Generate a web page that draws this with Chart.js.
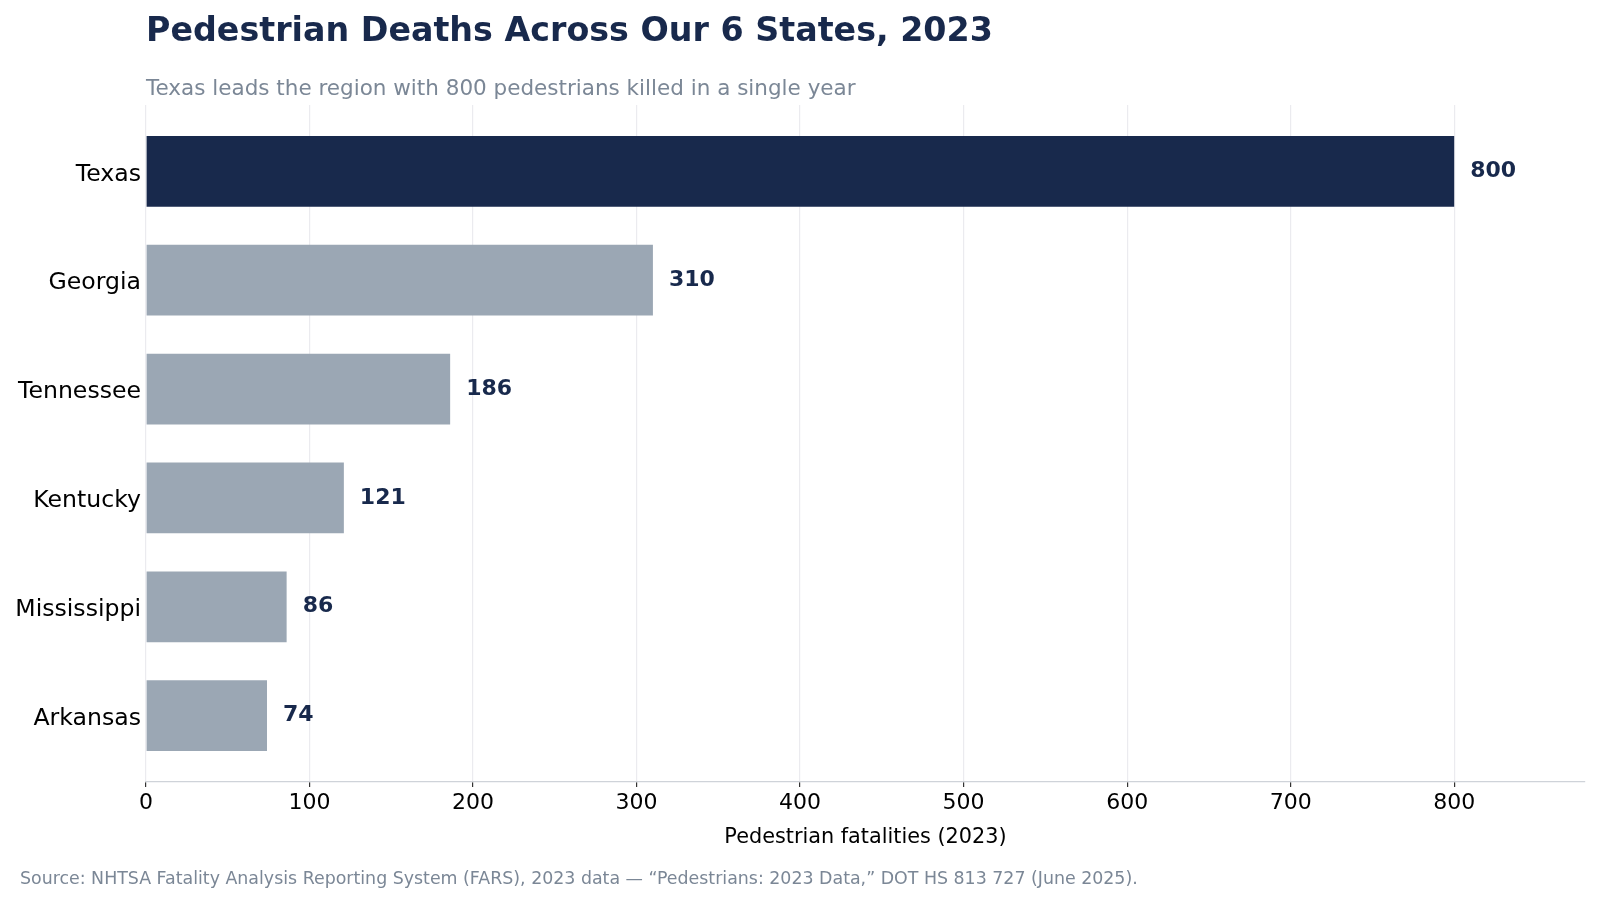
<!DOCTYPE html>
<html>
<head>
<meta charset="utf-8">
<script src="https://cdn.jsdelivr.net/npm/chart.js@4.4.1/dist/chart.umd.min.js"></script>
<style>
  html, body { margin: 0; padding: 0; background: #ffffff; }
  #wrap { position: relative; width: 1600px; height: 900px; overflow: hidden; font-family: 'DejaVu Sans', sans-serif; }
  #c { position: absolute; left: 0; top: 0; }
  .txt { position: absolute; white-space: nowrap; line-height: 1; }
  #title { left: 146px; top: 12.8px; font-size: 33.3px; font-weight: bold; color: #18294c; }
  #subtitle { left: 146px; top: 77.2px; font-size: 21.5px; color: #7b8796; }
  #source { left: 20px; top: 870px; font-size: 17.4px; color: #7b8796; }
</style>
</head>
<body>
<div id="wrap">
  <canvas id="c" width="1600" height="900"></canvas>
  <div class="txt" id="title">Pedestrian Deaths Across Our 6 States, 2023</div>
  <div class="txt" id="subtitle">Texas leads the region with 800 pedestrians killed in a single year</div>
  <div class="txt" id="source">Source: NHTSA Fatality Analysis Reporting System (FARS), 2023 data — “Pedestrians: 2023 Data,” DOT HS 813 727 (June 2025).</div>
</div>
<script>
const states = ['Texas', 'Georgia', 'Tennessee', 'Kentucky', 'Mississippi', 'Arkansas'];
const deaths = [800, 310, 186, 121, 86, 74];
const xTicks = [0, 100, 200, 300, 400, 500, 600, 700, 800];
const xTitle = 'Pedestrian fatalities (2023)';

const NAVY = '#18294c';
const GRAY = '#9ba7b4';

const points = states.map((s, i) => ({ x: deaths[i], y: i }));
const barColors = states.map((s, i) => i === 0 ? NAVY : GRAY);

const valueLabels = {
  id: 'valueLabels',
  afterDatasetsDraw(chart) {
    const ctx = chart.ctx;
    const meta = chart.getDatasetMeta(0);
    ctx.save();
    ctx.font = 'bold 22px "DejaVu Sans"';
    ctx.fillStyle = NAVY;
    ctx.textAlign = 'left';
    ctx.textBaseline = 'middle';
    meta.data.forEach((bar, i) => {
      ctx.fillText(String(deaths[i]), bar.x + 16, bar.y);
    });
    ctx.restore();
  }
};

Chart.defaults.font.family = "'DejaVu Sans', sans-serif";

new Chart(document.getElementById('c'), {
  type: 'bar',
  data: {
    datasets: [{
      data: points,
      backgroundColor: barColors,
      borderWidth: 0,
      barPercentage: 0.65,
      categoryPercentage: 1.0
    }]
  },
  options: {
    indexAxis: 'y',
    responsive: false,
    animation: false,
    maintainAspectRatio: false,
    layout: { padding: { top: 105, bottom: 50, left: 0, right: 15 } },
    plugins: {
      legend: { display: false },
      tooltip: { enabled: false },
      title: { display: false }
    },
    scales: {
      x: {
        type: 'linear',
        position: 'bottom',
        min: 0,
        max: 880,
        afterFit(scale) { scale.height = 68; },
        afterBuildTicks(scale) { scale.ticks = xTicks.map(v => ({ value: v })); },
        ticks: {
          color: '#000000',
          font: { size: 22 },
          padding: 3,
          maxRotation: 0,
          autoSkip: false
        },
        grid: {
          display: true,
          color: '#ebebef',
          lineWidth: 1.2,
          drawTicks: true,
          tickLength: 5,
          tickColor: '#333333'
        },
        border: { display: true, color: '#cfd3d9', width: 1.2 },
        title: {
          display: true,
          text: xTitle,
          color: '#000000',
          font: { size: 20.8 },
          padding: { top: 0, bottom: 0 }
        }
      },
      y: {
        type: 'linear',
        reverse: true,
        offset: false,
        min: -0.61,
        max: 5.61,
        afterFit(scale) { scale.width = 146; },
        afterBuildTicks(scale) { scale.ticks = states.map((s, i) => ({ value: i })); },
        ticks: {
          color: '#000000',
          font: { size: 23.6 },
          padding: 5,
          labelOffset: 3,
          autoSkip: false,
          callback: (v) => states[v] !== undefined ? states[v] : ''
        },
        grid: { display: false, drawTicks: false },
        border: { display: false }
      }
    }
  },
  plugins: [valueLabels]
});
</script>
</body>
</html>
